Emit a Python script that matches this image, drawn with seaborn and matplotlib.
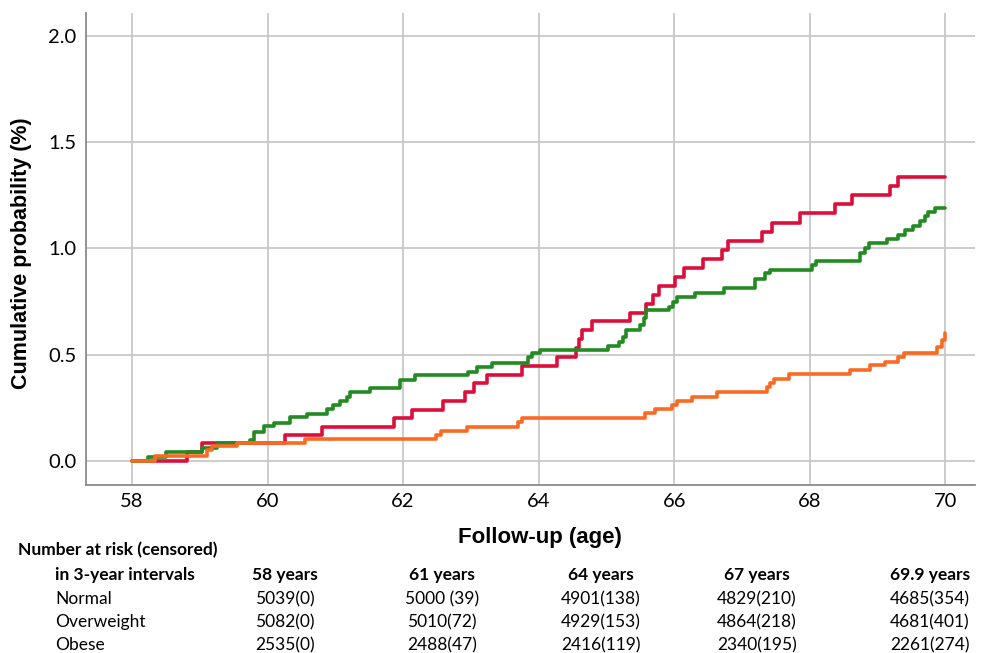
import numpy as np
import pandas as pd
import seaborn as sns
import matplotlib
matplotlib.use("Agg")
import matplotlib.pyplot as plt

# step curves (age, cumulative probability %)
red_age = [58.0, 58.81, 59.03, 60.26, 60.80, 61.87, 62.13, 62.59, 62.92, 63.04, 63.24, 63.75,
           64.27, 64.55, 64.60, 64.64, 64.79, 65.35, 65.59, 65.69, 65.77, 66.01, 66.14, 66.43,
           66.70, 66.80, 67.29, 67.45, 67.86, 68.38, 68.62, 69.19, 69.30, 70.0]
red_prob = [0, .044, .083, .122, .161, .201, .242, .281, .326, .366, .405, .447,
            .491, .53, .575, .616, .659, .698, .739, .781, .822, .864, .907, .949,
            .993, 1.033, 1.079, 1.122, 1.166, 1.209, 1.252, 1.294, 1.338, 1.338]

green_age = [58.0, 58.24, 58.50, 59.03, 59.25, 59.74, 59.80, 59.94, 60.09, 60.33, 60.58, 60.87,
             60.97, 61.07, 61.17, 61.22, 61.51, 61.95, 62.18, 62.96, 63.09, 63.31, 63.85, 63.90,
             64.02, 65.03, 65.18, 65.25, 65.29, 65.50, 65.55, 65.59, 65.93, 65.99, 66.04, 66.31,
             66.73, 67.20, 67.34, 67.42, 68.03, 68.10, 68.75, 68.82, 68.87, 69.14, 69.31, 69.41,
             69.53, 69.63, 69.70, 69.75, 69.85, 70.0]
green_prob = [0, .02, .041, .063, .083, .099, .138, .165, .18, .206, .221, .243,
              .264, .283, .303, .323, .342, .382, .405, .42, .444, .463, .491, .507,
              .524, .541, .561, .582, .616, .64, .672, .711, .726, .75, .77, .792,
              .813, .855, .883, .899, .922, .941, .977, 1.0, 1.024, 1.043, 1.064, 1.087,
              1.106, 1.131, 1.153, 1.173, 1.192, 1.192]

orange_age = [58.0, 58.34, 59.10, 59.18, 59.55, 60.55, 62.49, 62.56, 62.94, 63.70, 63.75, 65.57,
              65.72, 65.97, 66.04, 66.26, 66.63, 67.37, 67.42, 67.47, 67.69, 68.60, 68.89, 69.11,
              69.31, 69.39, 69.88, 69.95, 69.99, 70.0]
orange_prob = [0, .023, .052, .07, .083, .103, .124, .14, .16, .185, .201, .224,
               .245, .264, .284, .303, .326, .347, .369, .384, .409, .428, .452, .467,
               .488, .51, .535, .569, .601, .601]

groups = ["Overweight", "Normal", "Obese"]
colors = ["#dc0f3c", "#228b22", "#fb6a22"]

# number at risk table
col_labels = ["58 years", "61 years", "64 years", "67 years", "69.9 years"]
risk_rows = ["Normal", "Overweight", "Obese"]
risk_normal = ["5039(0)", "5000 (39)", "4901(138)", "4829(210)", "4685(354)"]
risk_over = ["5082(0)", "5010(72)", "4929(153)", "4864(218)", "4681(401)"]
risk_obese = ["2535(0)", "2488(47)", "2416(119)", "2340(195)", "2261(274)"]

df = pd.concat([
    pd.DataFrame({"age": red_age, "prob": red_prob, "group": groups[0]}),
    pd.DataFrame({"age": green_age, "prob": green_prob, "group": groups[1]}),
    pd.DataFrame({"age": orange_age, "prob": orange_prob, "group": groups[2]}),
])

sns.set_theme(style="white")
plt.rcParams["font.family"] = ["Lato", "DejaVu Sans"]
plt.rcParams["text.color"] = "black"

W, H = 991, 653
fig = plt.figure(figsize=(W / 100, H / 100), dpi=100)
ax = fig.add_axes([86 / W, 1 - 485 / H, (975 - 86) / W, (485 - 13) / H])

sns.lineplot(data=df, x="age", y="prob", hue="group", hue_order=groups,
             palette=colors, drawstyle="steps-post", estimator=None, sort=False,
             linewidth=2.6, legend=False, ax=ax, zorder=3)

ax.set_xlim(57.32, 70.44)
ax.set_ylim(-0.113, 2.108)
ax.set_xticks(range(58, 71, 2))
ax.set_yticks([0.0, 0.5, 1.0, 1.5, 2.0])
ax.set_yticklabels(["0.0", "0.5", "1.0", "1.5", "2.0"])
ax.grid(True, color="#c8c8c8", linewidth=1.3)
ax.set_axisbelow(True)
ax.tick_params(length=0, labelsize=14.5, colors="black")
ax.tick_params(axis="y", pad=7)
ax.tick_params(axis="x", pad=6)
for s in ["top", "right"]:
    ax.spines[s].set_visible(False)
for s in ["left", "bottom"]:
    ax.spines[s].set_color("#8a8a8a")
    ax.spines[s].set_linewidth(1.3)
ax.set_xlabel("")
ax.set_ylabel("")

fig.text(540 / W, 1 - 537 / H, "Follow-up (age)", ha="center", va="center",
         fontsize=16, fontweight="bold", family="Liberation Sans")
fig.text(22 / W, 1 - 253 / H, "Cumulative probability (%)", ha="center", va="center",
         rotation=90, fontsize=15.5, fontweight="bold", family="Liberation Sans")

col_x = [285, 442, 601, 757, 930]
row_y = [599, 622, 645]
fig.text(18 / W, 1 - 550 / H, "Number at risk (censored)", ha="left", va="center",
         fontsize=12.5, fontweight="bold")
fig.text(55 / W, 1 - 575 / H, "in 3-year intervals", ha="left", va="center",
         fontsize=12.5, fontweight="bold")
for cx, lab in zip(col_x, col_labels):
    fig.text(cx / W, 1 - 575 / H, lab, ha="center", va="center", fontsize=12.5, fontweight="bold")
for ry, name, vals in zip(row_y, risk_rows, [risk_normal, risk_over, risk_obese]):
    fig.text(55 / W, 1 - ry / H, name, ha="left", va="center", fontsize=12.5)
    for cx, v in zip(col_x, vals):
        fig.text(cx / W, 1 - ry / H, v, ha="center", va="center", fontsize=12.5)

fig.savefig("out.png", dpi=100)
